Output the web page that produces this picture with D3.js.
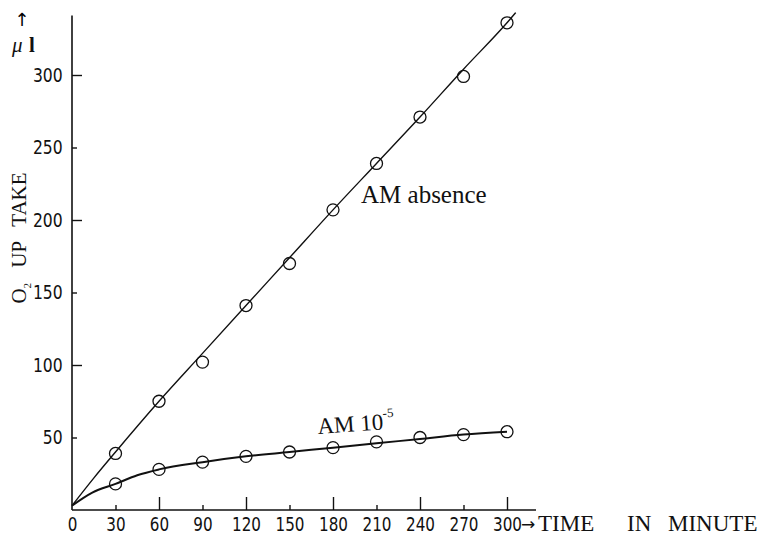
<!DOCTYPE html>
<html>
    <head>
        <title>O2 up take</title>
        <meta charset="UTF-8">
        <script src="https://d3js.org/d3.v7.min.js"></script>
        <style>
            html, body {
                margin: 0;
                padding: 0;
                background: #fff;
            }
            .tick text {
                font-family: 'DejaVu Sans', sans-serif;
                font-size: 20px;
                fill: #111;
            }
            .serif {
                font-family: 'Liberation Serif', 'DejaVu Serif', serif;
                fill: #111;
            }
            .arrow {
                font-family: 'DejaVu Sans', sans-serif;
            }
        </style>
        <script>
            // measured points (minutes / ul)
            const minutes = [30, 60, 90, 120, 150, 180, 210, 240, 270, 300];
            const absenceValues = [39, 75, 102, 141, 170, 207, 239, 271, 299, 336];
            const am10Values = [18, 28, 33, 37, 40, 43, 47, 50, 52, 54];

            // the hand drawn curves
            const absenceCurveX = [0, 15, 30, 60, 90, 120, 150, 180, 210, 240, 270, 300, 306];
            const absenceCurveY = [3, 22, 40, 75, 108, 141, 174, 207, 239, 271, 304, 336, 343];
            const am10CurveX = [0, 14, 30, 45, 60, 90, 120, 150, 180, 210, 240, 270, 300];
            const am10CurveY = [3, 12, 18, 24, 28, 33, 37, 40, 43, 46, 49, 52, 54];

            const xTicks = [0, 30, 60, 90, 120, 150, 180, 210, 240, 270, 300];
            const yTicks = [50, 100, 150, 200, 250, 300];

            function zip(a, b){
                return a.map((v, i) => ({x: v, y: b[i]}));
            }

            function renderChart(selector){
                let w = 761;
                let h = 536;

                let svg = d3.select(selector).append("svg")
                        .attr("width", w)
                        .attr("height", h);

                let x = d3.scaleLinear()
                        .domain([0, 300])
                        .range([72, 507]);
                let y = d3.scaleLinear()
                        .domain([0, 300])
                        .range([510, 75]);

                // axis lines run past the last tick
                svg.append("line")
                    .attr("x1", x(0)).attr("x2", x(0))
                    .attr("y1", y(0)).attr("y2", y(341))
                    .attr("stroke", "#111")
                    .attr("stroke-width", 1.6);
                svg.append("line")
                    .attr("x1", x(0)).attr("x2", x(320))
                    .attr("y1", y(0)).attr("y2", y(0))
                    .attr("stroke", "#111")
                    .attr("stroke-width", 1.6);

                let xAxis = svg.append("g")
                    .attr("transform", "translate(0," + y(0) + ")")
                    .call(d3.axisBottom(x).tickValues(xTicks).tickSize(-5).tickPadding(7));
                xAxis.select(".domain").remove();
                xAxis.selectAll(".tick line")
                    .attr("y2", d => d === 0 ? 0 : (d % 60 === 0 ? -13 : -5))
                    .attr("stroke", "#111")
                    .attr("stroke-width", 1.4);
                // narrow digits like the print
                xAxis.selectAll(".tick text")
                    .attr("transform", "scale(0.76,1)");

                let yAxis = svg.append("g")
                    .attr("transform", "translate(" + x(0) + ",0)")
                    .call(d3.axisLeft(y).tickValues(yTicks).tickSize(-5).tickPadding(9));
                yAxis.select(".domain").remove();
                yAxis.selectAll(".tick line")
                    .attr("x2", d => d % 100 === 0 ? 10 : 5)
                    .attr("stroke", "#111")
                    .attr("stroke-width", 1.4);
                yAxis.selectAll(".tick text")
                    .attr("x", -12)
                    .attr("transform", "scale(0.78,1)");

                let line = d3.line()
                        .curve(d3.curveMonotoneX)
                        .x(d => x(d.x))
                        .y(d => y(d.y));

                svg.append("path")
                    .datum(zip(absenceCurveX, absenceCurveY))
                    .attr("fill", "none")
                    .attr("stroke", "#111")
                    .attr("stroke-width", 1.4)
                    .attr("d", line);

                svg.append("path")
                    .datum(zip(am10CurveX, am10CurveY))
                    .attr("fill", "none")
                    .attr("stroke", "#111")
                    .attr("stroke-width", 2)
                    .attr("d", line);

                let series = [absenceValues, am10Values];
                series.forEach(function(values){
                    svg.append("g")
                        .selectAll("circle")
                        .data(zip(minutes, values))
                        .join("circle")
                        .attr("cx", d => x(d.x))
                        .attr("cy", d => y(d.y))
                        .attr("r", 6)
                        .attr("fill", "none")
                        .attr("stroke", "#111")
                        .attr("stroke-width", 1.3);
                });

                // labels
                svg.append("text")
                    .attr("class", "serif")
                    .attr("x", 361)
                    .attr("y", 203)
                    .style("font-size", "25px")
                    .text("AM absence");

                let am10 = svg.append("text")
                    .attr("class", "serif")
                    .attr("transform", "translate(318,434) rotate(-4)")
                    .style("font-size", "23px");
                am10.append("tspan").text("AM 10");
                am10.append("tspan")
                    .attr("dy", -12)
                    .style("font-size", "13px")
                    .text("-5");

                let xLabel = svg.append("text")
                    .attr("class", "serif")
                    .attr("y", 531)
                    .style("font-size", "23px");
                xLabel.append("tspan").attr("class", "arrow").attr("x", 521).attr("dy", -1).style("font-size", "17px").text("→");
                xLabel.append("tspan").attr("x", 538).attr("dy", 1).text("TIME");
                xLabel.append("tspan").attr("x", 627).text("IN");
                xLabel.append("tspan").attr("x", 668).text("MINUTE");

                let yLabel = svg.append("text")
                    .attr("class", "serif")
                    .attr("transform", "translate(26,238) rotate(-90)")
                    .attr("text-anchor", "middle")
                    .style("font-size", "21px")
                    .style("word-spacing", "10px");
                yLabel.append("tspan").text("O");
                yLabel.append("tspan")
                    .attr("dy", 5)
                    .style("font-size", "11px")
                    .text("2");
                yLabel.append("tspan")
                    .attr("dy", -5)
                    .text(" UP TAKE");

                svg.append("text")
                    .attr("class", "arrow")
                    .attr("x", 22)
                    .attr("y", 26)
                    .attr("text-anchor", "middle")
                    .style("font-size", "18px")
                    .text("↑");
                let unit = svg.append("text")
                    .attr("class", "serif")
                    .attr("x", 12)
                    .attr("y", 52)
                    .style("font-size", "21px");
                unit.append("tspan").style("font-style", "italic").text("μ");
                unit.append("tspan").attr("x", 29).style("font-weight", "bold").text("l");
            }
        </script>
    </head>
    <body>
        <div class="chart"></div>
        <script>
            renderChart('.chart');
        </script>
    </body>
</html>
